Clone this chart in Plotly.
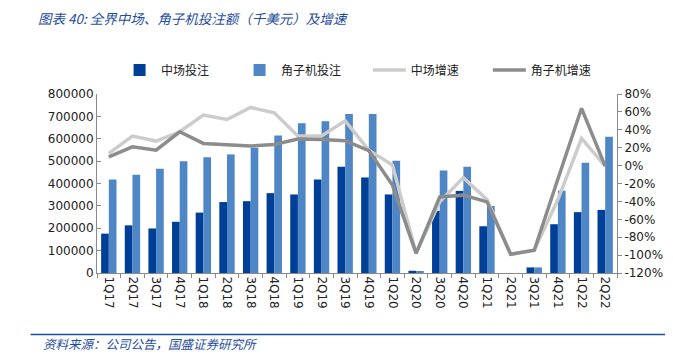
import plotly.graph_objects as go

quarters = ["1Q17", "2Q17", "3Q17", "4Q17", "1Q18", "2Q18", "3Q18", "4Q18",
            "1Q19", "2Q19", "3Q19", "4Q19", "1Q20", "2Q20", "3Q20", "4Q20",
            "1Q21", "2Q21", "3Q21", "4Q21", "1Q22", "2Q22"]
mid_bet = [176000, 213000, 199000, 229000, 270000, 317000, 321000, 357000,
           351000, 418000, 475000, 427000, 351000, 10000, 278000, 367000,
           209000, 0, 25000, 218000, 272000, 282000]
slot_bet = [418000, 439000, 466000, 499000, 517000, 530000, 560000, 614000,
            669000, 678000, 711000, 711000, 502000, 5000, 458000, 475000,
            300000, 0, 25000, 368000, 493000, 609000]
mid_growth = [13.6, 33, 27.4, 37.8, 56.5, 51.5, 65, 59,
              33, 33, 50, 17.3, 0.6, -98, -40.5, -13.6,
              -38, -99, -94.6, -38, 30.4, -0.6]
slot_growth = [9.8, 21, 17.3, 37.8, 24.8, 23, 21.8, 23.7,
               29.6, 29.2, 27.8, 16.6, -21.8, -98, -35, -33,
               -40.5, -99, -94.6, -15, 64, -0.6]
left_ticks = [0, 100000, 200000, 300000, 400000, 500000, 600000, 700000, 800000]
right_ticks = [-120, -100, -80, -60, -40, -20, 0, 20, 40, 60, 80]
right_labels = ["-120%", "-100%", "-80%", "-60%", "-40%", "-20%", "0%",
                "20%", "40%", "60%", "80%"]

CJK = "Noto Sans CJK SC"
NUM = "DejaVu Sans"
BLUE_T = "#1F4E9C"

# page body has an 8px margin, so the figure is sized to fit the window
W, H = 665, 350
L, R, T, B = 88.5, 56, 86, 85.3
PW = W - L - R
PH = H - T - B


def px(xw):  # window x -> paper x
    return (xw - 8 - L) / PW


def py(yw):  # window y -> paper y
    return (H - B - (yw - 8)) / PH


fig = go.Figure()
fig.add_trace(go.Bar(x=quarters, y=mid_bet, name="中场投注",
                     marker=dict(color="#003F98", line=dict(width=0)),
                     offsetgroup="a", yaxis="y", legend="legend"))
fig.add_trace(go.Bar(x=quarters, y=slot_bet, name="角子机投注",
                     marker=dict(color="#4F86C6", line=dict(width=0)),
                     offsetgroup="b", yaxis="y", legend="legend"))
fig.add_trace(go.Scatter(x=quarters, y=mid_growth, name="中场增速", mode="lines",
                         line=dict(color="#CCCCCC", width=3.5), yaxis="y2",
                         legend="legend2"))
fig.add_trace(go.Scatter(x=quarters, y=slot_growth, name="角子机增速", mode="lines",
                         line=dict(color="#8C8C8C", width=3.5), yaxis="y2",
                         legend="legend2"))

axis_col = "#8A8A8A"
tick_font = dict(family=NUM, size=12, color="#222222")
leg_common = dict(orientation="h", xanchor="left", yanchor="middle",
                  font=dict(family=CJK, size=12, color="#222222"),
                  entrywidth=72, itemwidth=33, bgcolor="rgba(0,0,0,0)",
                  traceorder="normal")
fig.update_layout(
    width=W, height=H,
    margin=dict(l=L, r=R, t=T, b=B, autoexpand=False),
    paper_bgcolor="white", plot_bgcolor="white",
    barmode="group", bargap=0.35, bargroupgap=0,
    font=dict(family=NUM, size=12, color="#222222"),
    xaxis=dict(type="category", tickangle=90, showline=True, linecolor=axis_col,
               ticks="outside", ticklen=4, tickcolor=axis_col, tickson="boundaries",
               showgrid=False, tickfont=tick_font),
    yaxis=dict(range=[0, 800000], tickvals=left_ticks, showline=True,
               linecolor=axis_col, ticks="inside", ticklen=4, tickcolor=axis_col,
               showgrid=False, zeroline=False, tickformat="d", tickfont=tick_font),
    yaxis2=dict(range=[-120, 80], tickvals=right_ticks, ticktext=right_labels,
                overlaying="y", side="right", showline=True, linecolor=axis_col,
                ticks="outside", ticklen=4, tickcolor=axis_col, showgrid=False,
                zeroline=False, tickfont=tick_font),
    legend=dict(x=px(117.6), y=py(70), **leg_common),
    legend2=dict(x=px(367.6), y=py(70), **leg_common),
    title=dict(text="图表 40: 全界中场、角子机投注额（千美元）及增速",
               xref="container", yref="container", x=30 / W, xanchor="left",
               y=1 - 6.5 / H, yanchor="top",
               font=dict(family=CJK, size=13.5, color=BLUE_T, style="italic")),
)

fig.add_shape(type="line", xref="paper", yref="paper",
              x0=px(30), x1=px(673), y0=py(334), y1=py(334),
              line=dict(color=BLUE_T, width=1.5))
fig.add_annotation(text="资料来源：公司公告，国盛证券研究所", xref="paper", yref="paper",
                   x=px(40), xanchor="left", y=py(343), yanchor="middle",
                   showarrow=False,
                   font=dict(family=CJK, size=12.5, color=BLUE_T, style="italic"))

fig.write_html("out.html")
